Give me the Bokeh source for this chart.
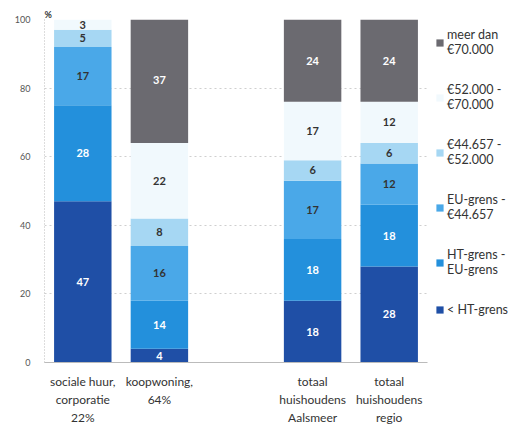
from bokeh.plotting import figure
from bokeh.models import ColumnDataSource, FactorRange, Legend, LegendItem, Range1d, Title
from bokeh.core.properties import value
from bokeh.embed import file_html
from bokeh.resources import INLINE

categories = ["sociale huur,\ncorporatie\n22%", "koopwoning,\n64%", " ",
              "totaal\nhuishoudens\nAalsmeer", "totaal\nhuishoudens\nregio"]
series_keys = ["s1", "s2", "s3", "s4", "s5", "s6"]
legend_labels = ["< HT-grens", "HT-grens -\nEU-grens", "EU-grens -\n€44.657",
                 "€44.657 -\n€52.000", "€52.000 -\n€70.000", "meer dan\n€70.000"]
lt_ht = [47, 4, 0, 18, 28]
ht_eu = [28, 14, 0, 18, 18]
eu_44657 = [17, 16, 0, 17, 12]
k44657_52000 = [5, 8, 0, 6, 6]
k52000_70000 = [3, 22, 0, 17, 12]
meer_70000 = [0, 37, 0, 24, 24]
y_ticks = [0, 20, 40, 60, 80, 100]

values = [lt_ht, ht_eu, eu_44657, k44657_52000, k52000_70000, meer_70000]
colors = ["#1f4fa6", "#2390dc", "#4aa8e8", "#a6d7f3", "#f1f9fd", "#6b6a70"]
label_colors = ["white", "white", "#333333", "#333333", "#333333", "white"]

FONT = "Lato"

data = {"cat": categories}
for k, v in zip(series_keys, values):
    data[k] = v
source = ColumnDataSource(data)

p = figure(x_range=FactorRange(*categories, range_padding=0), y_range=Range1d(0, 100),
           frame_width=383, frame_height=343, output_backend="svg", toolbar_location=None,
           min_border_left=44, min_border_top=19, min_border_bottom=54, min_border_right=4)

renderers = p.vbar_stack(series_keys, x="cat", width=0.75, source=source,
                         color=colors, line_color=None)

# segment labels
lx, ly, lt, lc = [], [], [], []
for ci, cat in enumerate(categories):
    base = 0
    for si, v in enumerate(values):
        val = v[ci]
        if val > 0:
            lx.append(cat)
            ly.append(base + val / 2)
            lt.append(str(val))
            lc.append(label_colors[si])
        base += val
lsrc = ColumnDataSource(dict(x=lx, y=ly, t=lt, c=lc))
p.text(x="x", y="y", text="t", source=lsrc, text_color="c", text_align="center",
       text_baseline="middle", text_font=value(FONT), text_font_size="11px",
       text_font_style="bold")

items = [LegendItem(label=legend_labels[i], renderers=[renderers[i]]) for i in range(5, -1, -1)]
legend = Legend(items=items, location="top_left", label_text_font=FONT,
                label_text_font_size="12.5px", label_text_color="#333333",
                glyph_width=9, glyph_height=9, spacing=25, padding=0, margin=8,
                border_line_color=None, background_fill_alpha=0, label_standoff=3)
p.add_layout(legend, "right")

p.yaxis.ticker = y_ticks
p.yaxis.major_label_text_font = FONT
p.yaxis.major_label_text_font_size = "9px"
p.yaxis.major_label_text_color = "#555555"
p.yaxis.major_tick_line_color = None
p.yaxis.minor_tick_line_color = None
p.yaxis.axis_line_color = "#bbbbbb"
p.yaxis.axis_line_dash = "1 2"
p.yaxis.major_label_standoff = 8

p.xaxis.major_label_text_font = FONT
p.xaxis.major_label_text_font_size = "12px"
p.xaxis.major_label_text_color = "#333333"
p.xaxis.major_tick_line_color = None
p.xaxis.axis_line_color = "#bbbbbb"
p.xaxis.major_label_standoff = 5

p.xgrid.grid_line_color = None
p.ygrid.grid_line_color = "#cfcfcf"
p.ygrid.grid_line_dash = "2 3"
p.outline_line_color = None

p.add_layout(Title(text="%", align="left", text_font=FONT, text_font_size="9px",
                   text_color="#333333", text_font_style="bold", standoff=0), "above")

open("out.html", "w").write(file_html(p, INLINE))
